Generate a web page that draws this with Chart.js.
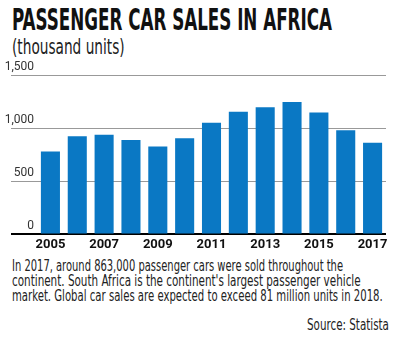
<!DOCTYPE html>
<html lang="en">
<head>
  <meta charset="UTF-8" />
  <title>Passenger car sales in Africa</title>
  <script src="https://cdn.jsdelivr.net/npm/chart.js"></script>
  <style>
    body {
      margin: 0;
      background: #fff;
      font-family: 'Liberation Sans Narrow', 'DejaVu Sans Condensed', sans-serif;
      color: #1a1a1a;
    }
    .card {
      position: relative;
      width: 400px;
      height: 339px;
      overflow: hidden;
      background: #fff;
    }
    .fit {
      position: absolute;
      left: 12px;
      white-space: nowrap;
      transform-origin: left top;
    }
    #title { top: 4px; font-size: 31px; font-weight: bold; line-height: 31px; color: #111; }
    #subtitle { top: 36px; font-size: 21px; line-height: 22px; color: #222; }
    .note { font-size: 15px; line-height: 15px; color: #222; }
    #source { left: 307px; top: 318px; }
    .chart-box {
      position: absolute;
      left: 0;
      top: 56px;
      width: 400px;
      height: 200px;
    }
  </style>
</head>
<body>
  <div class="card">
    <div class="fit" id="title" data-w="320">PASSENGER CAR SALES IN AFRICA</div>
    <div class="fit" id="subtitle" data-w="113">(thousand units)</div>
    <div class="chart-box"><canvas id="salesChart"></canvas></div>
    <div class="fit note" style="top:259px" data-w="331">In 2017, around 863,000 passenger cars were sold throughout the</div>
    <div class="fit note" style="top:274px" data-w="349">continent. South Africa is the continent's largest passenger vehicle</div>
    <div class="fit note" style="top:289px" data-w="371">market. Global car sales are expected to exceed 81 million units in 2018.</div>
    <div class="fit note" id="source" data-w="82">Source: Statista</div>
  </div>

  <script>
    const years = ['2005', '2006', '2007', '2008', '2009', '2010', '2011',
                   '2012', '2013', '2014', '2015', '2016', '2017'];
    const sales = [781, 924, 937, 889, 826, 905, 1051, 1155, 1197, 1247, 1146, 981, 863];
    const yTicks = [0, 500, 1000, 1500];

    // squeeze the text blocks to the widths in the original graphic
    document.querySelectorAll('.fit').forEach(el => {
      const target = +el.dataset.w;
      const w = el.scrollWidth;
      el.style.transform = 'scaleX(' + (target / w) + ')';
    });

    const tickFont = "Roboto, 'DejaVu Sans Condensed', sans-serif";

    new Chart(document.getElementById('salesChart'), {
      type: 'bar',
      data: {
        labels: years,
        datasets: [{
          data: sales,
          backgroundColor: '#0a78c4',
          barPercentage: 0.71,
          categoryPercentage: 1
        }]
      },
      options: {
        responsive: true,
        maintainAspectRatio: false,
        animation: false,
        layout: { padding: { left: 4, right: 14, top: 19, bottom: 0 } },
        plugins: { legend: { display: false }, tooltip: { enabled: false } },
        scales: {
          x: {
            offset: true,
            grid: { display: false, drawTicks: false },
            border: { display: false },
            ticks: {
              autoSkip: false,
              maxRotation: 0,
              padding: 3,
              color: '#111',
              font: { family: tickFont, size: 13, weight: 'bold' },
              callback: (v, i) => (i % 2 === 0 ? years[i] : '')
            }
          },
          y: {
            min: 0,
            max: 1500,
            afterBuildTicks: axis => { axis.ticks = yTicks.map(v => ({ value: v })); },
            // fixed width so the gridlines run out under the labels
            afterFit: axis => { axis.width = 33; },
            border: { display: false },
            grid: {
              tickLength: 26,
              color: ctx => (ctx.tick && ctx.tick.value === 0 ? '#000' : '#999'),
              lineWidth: ctx => (ctx.tick && ctx.tick.value === 0 ? 2 : 1)
            },
            ticks: {
              padding: -23,
              labelOffset: -8,
              color: '#333',
              font: { family: tickFont, size: 12 },
              callback: v => v.toLocaleString('en-US')
            }
          }
        }
      }
    });
  </script>
</body>
</html>
